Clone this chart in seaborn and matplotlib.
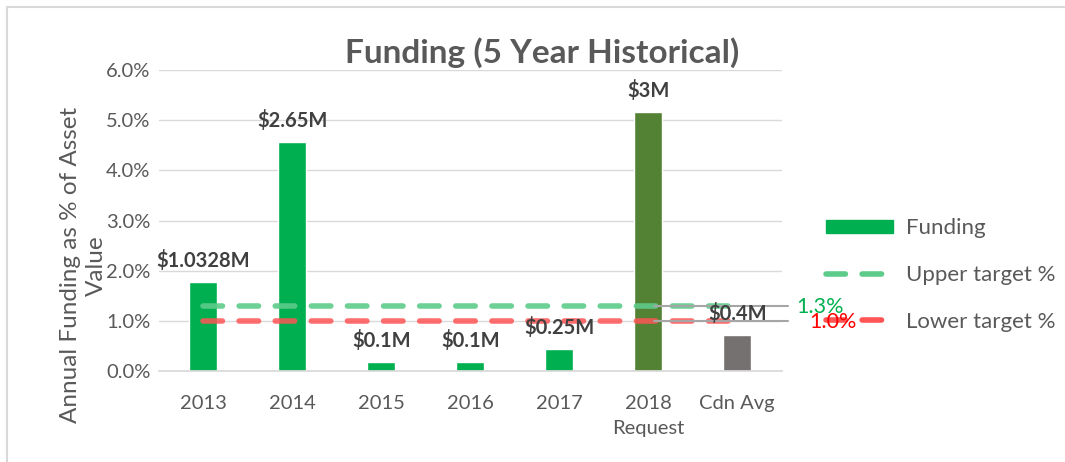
import matplotlib
matplotlib.use("Agg")
import matplotlib.pyplot as plt
import seaborn as sns
import pandas as pd
from matplotlib.patches import Rectangle, Patch
from matplotlib.lines import Line2D
from matplotlib.ticker import FuncFormatter

categories = ["2013", "2014", "2015", "2016", "2017", "2018\nRequest", "Cdn Avg"]
funding_pct = [1.77, 4.56, 0.18, 0.18, 0.44, 5.16, 0.72]
funding_labels = ["$1.0328M", "$2.65M", "$0.1M", "$0.1M", "$0.25M", "$3M", "$0.4M"]
bar_colors = ["#00B050", "#00B050", "#00B050", "#00B050", "#00B050", "#548235", "#767171"]
upper_target = 1.3
lower_target = 1.0

sns.set_theme(style="white")
plt.rcParams["font.family"] = ["Lato", "DejaVu Sans"]

df = pd.DataFrame({"cat": categories, "pct": funding_pct})

fig = plt.figure(figsize=(10.65, 4.62), dpi=100)
ax = fig.add_axes([0.149, 0.197, 0.585, 0.651])

sns.barplot(data=df, x="cat", y="pct", hue="cat", palette=bar_colors,
            width=0.315, legend=False, ax=ax, saturation=1)

dash = (0, (3.5, 3))
xs = list(range(len(categories)))
sns.lineplot(x=xs, y=[upper_target] * len(xs), ax=ax, color="#5DCB8A",
             lw=4, alpha=0.9, linestyle=dash, dash_capstyle="round", zorder=3)
sns.lineplot(x=xs, y=[lower_target] * len(xs), ax=ax, color="#FF5555",
             lw=4, alpha=0.85, linestyle=dash, dash_capstyle="round", zorder=3)

# leader lines to the target labels
ax.plot([5.07, 6.57], [upper_target] * 2, color="#A6A6A6", lw=1.5, zorder=4, clip_on=False)
ax.plot([5.07, 6.57], [lower_target] * 2, color="#A6A6A6", lw=1.5, zorder=4, clip_on=False)
ax.text(6.66, upper_target - 0.02, f"{upper_target:.1f}%", color="#00B050", fontsize=15.5,
        va="center", ha="left", zorder=6)
ax.text(6.81, lower_target - 0.03, f"{lower_target:.1f}%", color="#FF0000", fontsize=15.5,
        va="center", ha="left", zorder=6)

for x, v, lab in zip(xs, funding_pct, funding_labels):
    ax.text(x, v + 0.22, lab, ha="center", va="bottom", fontsize=14.5,
            fontweight="bold", color="#404040", zorder=5)

ax.set_ylim(0, 6)
ax.set_xlim(-0.5, len(categories) - 0.5)
ax.yaxis.set_major_formatter(FuncFormatter(lambda v, p: f"{v:.1f}%"))
ax.set_yticks([0, 1, 2, 3, 4, 5, 6])
ax.grid(axis="y", color="#D9D9D9", lw=1)
ax.set_axisbelow(True)
for s in ["top", "right", "left"]:
    ax.spines[s].set_visible(False)
ax.spines["bottom"].set_color("#D9D9D9")
ax.tick_params(axis="both", colors="#595959", labelsize=14.5, length=0)
ax.tick_params(axis="y", pad=6)
ax.tick_params(axis="x", pad=17)
for t in ax.get_xticklabels():
    t.set_linespacing(1.6)
ax.set_xlabel("")
ax.set_ylabel("")

fig.text(0.078, 0.426, "Annual Funding as % of Asset\nValue", rotation=90,
         ha="center", va="center", fontsize=17.5, color="#595959", linespacing=1.3)

fig.text(0.509, 0.887, "Funding (5 Year Historical)", ha="center", va="center",
         fontsize=24, fontweight="bold", color="#595959")

handles = [
    Patch(color="#00B050"),
    Line2D([], [], color="#5DCB8A", lw=4, linestyle=dash, dash_capstyle="round"),
    Line2D([], [], color="#FF5555", lw=4, linestyle=dash, dash_capstyle="round"),
]
fig.legend(handles, ["Funding", "Upper target %", "Lower target %"],
           loc="center left", bbox_to_anchor=(0.757, 0.405), frameon=False,
           fontsize=16, labelcolor="#595959", handlelength=3.0,
           handleheight=0.5, handletextpad=0.6, labelspacing=1.2)

# draw axes (with the target labels) above the figure legend
ax.patch.set_alpha(0)
ax.set_zorder(6)

fig.patches.append(Rectangle((0.0065, -0.1), 1.2, 1.0845, transform=fig.transFigure,
                             fill=False, edgecolor="#D9D9D9", lw=1.5))

fig.savefig("out.png", dpi=100)
